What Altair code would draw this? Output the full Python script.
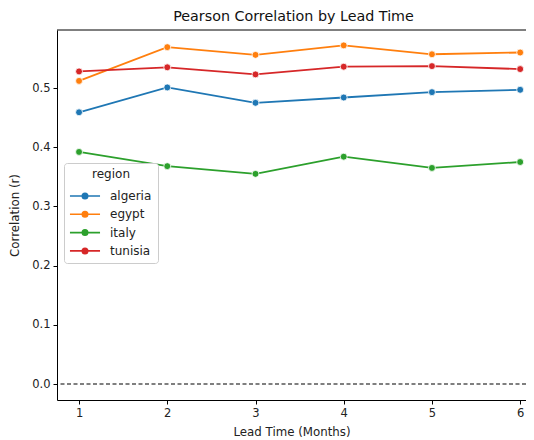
import altair as alt
import pandas as pd

lead = [1, 2, 3, 4, 5, 6]
regions = ["algeria", "egypt", "italy", "tunisia"]
algeria = [0.459, 0.501, 0.475, 0.484, 0.493, 0.497]
egypt = [0.512, 0.569, 0.556, 0.572, 0.557, 0.560]
italy = [0.392, 0.368, 0.355, 0.384, 0.365, 0.375]
tunisia = [0.528, 0.535, 0.523, 0.536, 0.537, 0.532]
colors = ["#1f77b4", "#ff7f0e", "#2ca02c", "#d62728"]
x_ticks = [1, 2, 3, 4, 5, 6]
y_ticks = [0.0, 0.1, 0.2, 0.3, 0.4, 0.5]

rows = []
for name, vals in zip(regions, [algeria, egypt, italy, tunisia]):
    for l, v in zip(lead, vals):
        rows.append({"lead": l, "r": v, "region": name})
df = pd.DataFrame(rows)

FONT = "DejaVu Sans"
W, H = 469, 370
xscale = alt.Scale(domain=[0.75, 6.066], nice=False, zero=False)
yscale = alt.Scale(domain=[-0.027, 0.598], nice=False, zero=False)

color = alt.Color(
    "region:N",
    scale=alt.Scale(domain=regions, range=colors),
    legend=alt.Legend(
        title="region",
        orient="none",
        legendX=7,
        legendY=133,
        titleAnchor="middle",
        titleFont=FONT,
        titleFontSize=12,
        titleFontWeight="normal",
        titleColor="#222",
        titlePadding=5,
        labelFont=FONT,
        labelFontSize=12,
        labelColor="#222",
        symbolType="M-1.67,0L1.67,0M-0.3,0A0.3,0.3 0 1,1 0.3,0A0.3,0.3 0 1,1 -0.3,0Z",
        symbolSize=324,
        symbolStrokeWidth=1.6,
        symbolOffset=5,
        strokeColor="#cccccc",
        fillColor="white",
        padding=6,
        cornerRadius=3,
        rowPadding=2.3,
        labelOffset=15,
    ),
)

x = alt.X(
    "lead:Q",
    scale=xscale,
    title="Lead Time (Months)",
    axis=alt.Axis(values=x_ticks, format="d", grid=False, domainColor="black",
                  tickColor="black", tickSize=4, labelPadding=3,
                  labelFont=FONT, labelFontSize=11.5, labelColor="#222",
                  titleFont=FONT, titleFontSize=11.8, titleFontWeight="normal",
                  titleColor="#222", titlePadding=8),
)
y = alt.Y(
    "r:Q",
    scale=yscale,
    title="Correlation (r)",
    axis=alt.Axis(values=y_ticks, format=".1f", grid=False, domainColor="black",
                  tickColor="black", tickSize=4, labelPadding=3,
                  labelFont=FONT, labelFontSize=11.5, labelColor="#222",
                  titleFont=FONT, titleFontSize=11.8, titleFontWeight="normal",
                  titleColor="#222", titlePadding=11),
)

base = alt.Chart(df)
lines = base.mark_line(strokeWidth=1.8).encode(x=x, y=y, color=color)
points = base.mark_point(filled=True, size=48, opacity=1, stroke="white", strokeWidth=0.8).encode(
    x=x, y=y, fill=alt.Fill("region:N", scale=alt.Scale(domain=regions, range=colors), legend=None)
)
zero = alt.Chart(pd.DataFrame({"z": [0.0]})).mark_rule(
    color="black", strokeDash=[4, 2.5], strokeWidth=1.2
).encode(y=alt.Y("z:Q", scale=yscale))
top = alt.Chart(pd.DataFrame({"t": [0]})).mark_rule(color="black", strokeWidth=1).encode(
    y=alt.value(0), x=alt.value(0), x2=alt.value(W)
)

chart = alt.layer(zero, lines, points, top).properties(
    width=W,
    height=H,
    title=alt.TitleParams("Pearson Correlation by Lead Time", font=FONT, fontSize=14.3,
                          fontWeight="normal", color="#111", offset=5, anchor="middle", dx=2),
    autosize=alt.AutoSizeParams(type="none"),
    padding={"left": 49, "top": 22, "right": 0, "bottom": 38},
).configure_view(stroke=None)

chart.save("out.html", embed_options={"renderer": "svg", "actions": False})
